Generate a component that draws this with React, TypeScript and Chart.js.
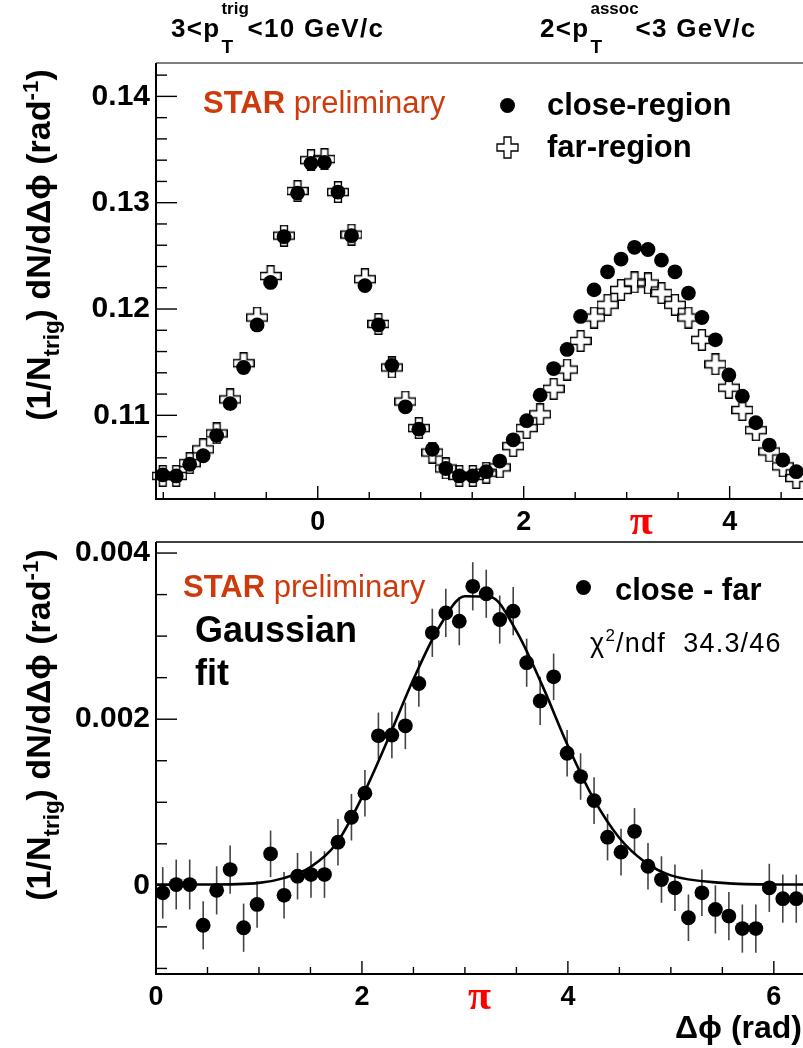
import React, { useEffect, useRef } from 'react';
import { Chart, registerables } from 'chart.js';

Chart.register(...registerables);

const FONT = "'Liberation Sans', Arial, Helvetica, sans-serif";
const PI_FONT = "'Liberation Serif', 'DejaVu Serif', serif";
Chart.defaults.font.family = FONT;

const N_BINS = 48;
const TOP_X_RANGE = [-Math.PI / 2, (3 * Math.PI) / 2];
const BOTTOM_X_RANGE = [0, 2 * Math.PI];
const TOP_Y_RANGE = [0.10213, 0.14314];
const BOTTOM_Y_RANGE = [-0.001067, 0.004133];

// top panel: close-region (filled circles)
const CLOSE_REGION = [
  0.1044, 0.1043, 0.1054, 0.1062, 0.1081, 0.1111, 0.1145, 0.1185, 0.1225, 0.1268, 0.1309, 0.1337,
  0.1338, 0.1310, 0.1269, 0.1222, 0.1185, 0.1147, 0.1108, 0.1087, 0.1068, 0.1050, 0.1043, 0.1043,
  0.1047, 0.1057, 0.1077, 0.1095, 0.1119, 0.1144, 0.1162, 0.1193, 0.1218, 0.1235, 0.1247, 0.1258,
  0.1256, 0.1246, 0.1235, 0.1215, 0.1192, 0.1171, 0.1138, 0.1118, 0.1093, 0.1072, 0.1058, 0.1047,
];
// top panel: far-region (open crosses)
const FAR_REGION = [
  0.1043, 0.1043, 0.1055, 0.1068, 0.1083, 0.1115, 0.1149, 0.1192, 0.1231, 0.1269, 0.1311, 0.1340,
  0.1341, 0.1310, 0.1270, 0.1228, 0.1186, 0.1145, 0.1113, 0.1088, 0.1065, 0.1050, 0.1043, 0.1043,
  0.1046, 0.1051, 0.1071, 0.1088, 0.1101, 0.1125, 0.1143, 0.1170, 0.1192, 0.1204, 0.1218, 0.1225,
  0.1224, 0.1215, 0.1204, 0.1192, 0.1171, 0.1148, 0.1126, 0.1105, 0.1086, 0.1066, 0.1052, 0.1041,
];
// bottom panel: close - far
const CLOSE_MINUS_FAR = [
  -0.00009, 0.00001, 0.00001, -0.00048, -0.00006, 0.00019, -0.00051, -0.00023, 0.00038, -0.00012, 0.00011, 0.00013,
  0.00013, 0.00052, 0.00082, 0.00111, 0.0018, 0.00181, 0.00192, 0.00243, 0.00304, 0.00328, 0.00318, 0.0036,
  0.00351, 0.0032, 0.0033, 0.00268, 0.00222, 0.00251, 0.00159, 0.00131, 0.00102, 0.00058, 0.0004, 0.00065,
  0.00023, 0.00007, -0.00003, -0.00039, -0.00009, -0.00029, -0.00037, -0.00052, -0.00052, -0.00003, -0.00016, -0.00016,
];
const CLOSE_MINUS_FAR_ERR = [
  0.00031, 0.0003, 0.0003, 0.00029, 0.00029, 0.00029, 0.00029, 0.00028, 0.00028, 0.00028, 0.00028, 0.00028,
  0.00028, 0.00028, 0.00028, 0.00028, 0.00028, 0.00028, 0.00028, 0.00028, 0.00029, 0.00029, 0.00029, 0.00029,
  0.00029, 0.00029, 0.00029, 0.00029, 0.00029, 0.00028, 0.00028, 0.00028, 0.00028, 0.00028, 0.00028, 0.00028,
  0.00028, 0.00028, 0.00028, 0.00028, 0.00028, 0.00029, 0.00029, 0.00029, 0.00029, 0.00029, 0.00029, 0.00029,
];
// Gaussian fit curve
const FIT_X = [0, 0.5, 1.0, 1.25, 1.5, 1.75, 2.0, 2.25, 2.5, 2.75, 3.0, 3.25, 3.5, 3.75, 4.0, 4.25, 4.5, 4.75, 5.0, 5.5, 6.0, 6.2832];
const FIT_Y = [0.00001, 0.00001, 0.00003, 0.00009, 0.00022, 0.0005, 0.00106, 0.00175, 0.00248, 0.00311, 0.00348, 0.00347, 0.00306, 0.00241, 0.00168, 0.00104, 0.00057, 0.00028, 0.00012, 0.00003, 0.00001, 0.00001];

const TOP_X_TICK_LABELS = [0, 2, Math.PI, 4];
const BOTTOM_X_TICK_LABELS = [0, 2, Math.PI, 4, 6];
const TOP_Y_TICK_LABELS = [0.11, 0.12, 0.13, 0.14];
const BOTTOM_Y_TICK_LABELS = [0, 0.002, 0.004];

const STAR_COLOR = '#cf3a0c';

function binCenters(range: number[]) {
  const w = (range[1] - range[0]) / N_BINS;
  return Array.from({ length: N_BINS }, (_, i) => range[0] + (i + 0.5) * w);
}

function isPi(v: number) {
  return Math.abs(v - Math.PI) < 1e-9;
}

function makeCross(size: number, lw: number) {
  const c = document.createElement('canvas');
  c.width = size;
  c.height = size;
  const g = c.getContext('2d')!;
  const o = lw / 2;
  const s = size - lw;
  const x0 = o, x1 = o + s / 3, x2 = o + (2 * s) / 3, x3 = o + s;
  g.beginPath();
  g.moveTo(x1, x0); g.lineTo(x2, x0); g.lineTo(x2, x1); g.lineTo(x3, x1); g.lineTo(x3, x2); g.lineTo(x2, x2);
  g.lineTo(x2, x3); g.lineTo(x1, x3); g.lineTo(x1, x2); g.lineTo(x0, x2); g.lineTo(x0, x1); g.lineTo(x1, x1);
  g.closePath();
  g.lineWidth = lw;
  g.strokeStyle = '#000';
  g.stroke();
  return c;
}

function frameTicksPlugin(xStep: number, xMajorEvery: number, yStep: number, yMajorEvery: number, topColor: string) {
  return {
    id: 'frameTicks',
    afterDraw(chart: any) {
      const { ctx, chartArea: a, scales } = chart;
      const xs = scales.x, ys = scales.y;
      const line = (x1: number, y1: number, x2: number, y2: number) => {
        ctx.beginPath(); ctx.moveTo(x1, y1); ctx.lineTo(x2, y2); ctx.stroke();
      };
      ctx.save();
      ctx.strokeStyle = '#000';
      ctx.lineWidth = 1.4;
      const kx0 = Math.ceil(xs.min / xStep - 1e-9), kx1 = Math.floor(xs.max / xStep + 1e-9);
      for (let k = kx0; k <= kx1; k++) {
        const px = xs.getPixelForValue(k * xStep);
        const len = k % xMajorEvery === 0 ? 13 : 7;
        line(px, a.bottom, px, a.bottom - len);
      }
      const ky0 = Math.ceil(ys.min / yStep - 1e-9), ky1 = Math.floor(ys.max / yStep + 1e-9);
      for (let k = ky0; k <= ky1; k++) {
        const py = ys.getPixelForValue(k * yStep);
        const len = k % yMajorEvery === 0 ? 21 : 11;
        line(a.left, py, a.left + len, py);
      }
      ctx.strokeStyle = topColor;
      ctx.lineWidth = 1.5;
      line(a.left, a.top, a.right, a.top);
      ctx.strokeStyle = '#000';
      ctx.lineWidth = 2;
      line(a.left, a.top, a.left, a.bottom + 1);
      line(a.left - 1, a.bottom, a.right, a.bottom);
      ctx.restore();
    },
  };
}

const errorBarsPlugin = {
  id: 'errorBars',
  beforeDatasetsDraw(chart: any) {
    const { ctx, scales } = chart;
    const ds = chart.data.datasets[0];
    ctx.save();
    ctx.strokeStyle = '#444';
    ctx.lineWidth = 1.6;
    ds.data.forEach((p: any, i: number) => {
      const e = CLOSE_MINUS_FAR_ERR[i];
      const px = scales.x.getPixelForValue(p.x);
      ctx.beginPath();
      ctx.moveTo(px, scales.y.getPixelForValue(p.y - e));
      ctx.lineTo(px, scales.y.getPixelForValue(p.y + e));
      ctx.stroke();
    });
    ctx.restore();
  },
};

function xScale(range: number[], labels: number[], height: number) {
  return {
    type: 'linear',
    position: 'bottom',
    min: range[0],
    max: range[1],
    grid: { display: false, drawTicks: false },
    border: { display: false },
    afterBuildTicks: (s: any) => {
      s.ticks = labels.map((v) => ({ value: v }));
    },
    afterFit: (s: any) => {
      s.height = height;
      s.paddingLeft = 0;
      s.paddingRight = 0;
    },
    ticks: {
      autoSkip: false,
      maxRotation: 0,
      minRotation: 0,
      padding: 7,
      font: (c: any) =>
        c.tick && isPi(c.tick.value)
          ? { size: 42, weight: 'bold', family: PI_FONT, lineHeight: 0.8 }
          : { size: 27, weight: 'bold', family: FONT },
      color: (c: any) => (c.tick && isPi(c.tick.value) ? '#ff0000' : '#000'),
      callback: (v: any) => (isPi(Number(v)) ? 'π' : String(Math.round(Number(v)))),
    },
  };
}

function yScale(range: number[], labels: number[], fmt: (v: number) => string) {
  return {
    type: 'linear',
    min: range[0],
    max: range[1],
    grid: { display: false, drawTicks: false },
    border: { display: false },
    afterBuildTicks: (s: any) => {
      s.ticks = labels.map((v) => ({ value: v }));
    },
    afterFit: (s: any) => {
      s.width = 156;
      s.paddingTop = 0;
      s.paddingBottom = 0;
    },
    ticks: {
      autoSkip: false,
      padding: 6,
      font: { size: 30, weight: 'bold', family: FONT },
      color: '#000',
      callback: (v: any) => fmt(Number(v)),
    },
  };
}

const BASE = 0.8465;

function Txt(props: { x: number; y: number; size: number; weight?: any; color?: string; style?: any; children: any }) {
  const { x, y, size, weight = 'bold', color = '#000', style, children } = props;
  return (
    <div
      style={{
        position: 'absolute',
        left: x,
        top: y - BASE * size,
        fontSize: size,
        fontWeight: weight,
        color,
        lineHeight: 1,
        whiteSpace: 'nowrap',
        ...style,
      }}
    >
      {children}
    </div>
  );
}

function SupSub(props: { sup: string; sub: string; w: number }) {
  return (
    <span style={{ position: 'relative', display: 'inline-block', width: props.w, height: 0 }}>
      <span style={{ position: 'absolute', left: 1, top: -37, fontSize: 17, lineHeight: 1, letterSpacing: 0 }}>{props.sup}</span>
      <span style={{ position: 'absolute', left: 1, top: 0, fontSize: 19, lineHeight: 1, letterSpacing: 0 }}>{props.sub}</span>
    </span>
  );
}

function YTitle(props: { cx: number; cy: number }) {
  return (
    <div
      style={{
        position: 'absolute',
        left: props.cx,
        top: props.cy,
        transform: 'translate(-50%, -50%) rotate(-90deg)',
        fontSize: 34,
        fontWeight: 'bold',
        lineHeight: 1,
        whiteSpace: 'nowrap',
        color: '#000',
      }}
    >
      (1/N<span style={{ fontSize: '0.66em', position: 'relative', top: '0.4em' }}>trig</span>) dN/dΔϕ (rad
      <span style={{ fontSize: '0.66em', position: 'relative', top: '-0.55em' }}>-1</span>)
    </div>
  );
}

function CrossIcon(props: { cx: number; cy: number; size: number }) {
  const s = props.size;
  const a = s / 3, b = (2 * s) / 3;
  const pts = `${a},0 ${b},0 ${b},${a} ${s},${a} ${s},${b} ${b},${b} ${b},${s} ${a},${s} ${a},${b} 0,${b} 0,${a} ${a},${a}`;
  return (
    <svg
      width={s + 2}
      height={s + 2}
      style={{ position: 'absolute', left: props.cx - s / 2 - 1, top: props.cy - s / 2 - 1 }}
    >
      <polygon points={pts} transform="translate(1,1)" fill="none" stroke="#000" strokeWidth={1.3} />
    </svg>
  );
}

function Dot(props: { cx: number; cy: number; d: number }) {
  return (
    <div
      style={{
        position: 'absolute',
        left: props.cx - props.d / 2,
        top: props.cy - props.d / 2,
        width: props.d,
        height: props.d,
        borderRadius: '50%',
        background: '#000',
      }}
    />
  );
}

export default function App() {
  const topRef = useRef<HTMLCanvasElement>(null);
  const botRef = useRef<HTMLCanvasElement>(null);

  useEffect(() => {
    const cross = makeCross(22, 1.4);
    const topX = binCenters(TOP_X_RANGE);
    const botX = binCenters(BOTTOM_X_RANGE);

    const top = new Chart(topRef.current!, {
      type: 'scatter',
      data: {
        datasets: [
          {
            label: 'close-region',
            data: CLOSE_REGION.map((y, i) => ({ x: topX[i], y })),
            pointStyle: 'circle',
            pointRadius: 7.4,
            backgroundColor: '#000',
            borderColor: '#000',
            borderWidth: 0,
            clip: false,
          } as any,
          {
            label: 'far-region',
            data: FAR_REGION.map((y, i) => ({ x: topX[i], y })),
            pointStyle: cross,
            pointRadius: 11,
            clip: false,
          } as any,
        ],
      },
      options: {
        responsive: false,
        animation: false,
        devicePixelRatio: 1,
        events: [],
        layout: { autoPadding: false, padding: { top: 63, left: 0, right: 0, bottom: 0 } },
        plugins: { legend: { display: false }, tooltip: { enabled: false } },
        scales: {
          x: xScale(TOP_X_RANGE, TOP_X_TICK_LABELS, 41) as any,
          y: yScale(TOP_Y_RANGE, TOP_Y_TICK_LABELS, (v) => v.toFixed(2)) as any,
        },
      } as any,
      plugins: [frameTicksPlugin(0.5, 4, 0.002, 5, '#555')],
    });

    const bot = new Chart(botRef.current!, {
      type: 'scatter',
      data: {
        datasets: [
          {
            type: 'scatter',
            label: 'close - far',
            data: CLOSE_MINUS_FAR.map((y, i) => ({ x: botX[i], y })),
            pointStyle: 'circle',
            pointRadius: 7.4,
            backgroundColor: '#000',
            borderColor: '#000',
            borderWidth: 0,
            clip: false,
          } as any,
          {
            type: 'line',
            label: 'Gaussian fit',
            data: FIT_X.map((x, i) => ({ x, y: FIT_Y[i] })),
            borderColor: '#000',
            borderWidth: 2.6,
            pointRadius: 0,
            fill: false,
            cubicInterpolationMode: 'monotone',
          } as any,
        ],
      },
      options: {
        responsive: false,
        animation: false,
        devicePixelRatio: 1,
        events: [],
        layout: { autoPadding: false, padding: { top: 2, left: 0, right: 0, bottom: 0 } },
        plugins: { legend: { display: false }, tooltip: { enabled: false } },
        scales: {
          x: xScale(BOTTOM_X_RANGE, BOTTOM_X_TICK_LABELS, 74) as any,
          y: yScale(BOTTOM_Y_RANGE, BOTTOM_Y_TICK_LABELS, (v) => (v === 0 ? '0' : v.toFixed(3))) as any,
        },
      } as any,
      plugins: [errorBarsPlugin, frameTicksPlugin(0.5, 4, 0.0005, 4, '#000')],
    });

    return () => {
      top.destroy();
      bot.destroy();
    };
  }, []);

  return (
    <div
      style={{
        position: 'absolute',
        left: 0,
        top: 0,
        width: 803,
        height: 1048,
        overflow: 'hidden',
        background: '#fff',
        fontFamily: FONT,
        color: '#000',
      }}
    >
      <canvas ref={topRef} width={803} height={540} style={{ position: 'absolute', left: 0, top: 0 }} />
      <canvas ref={botRef} width={803} height={508} style={{ position: 'absolute', left: 0, top: 540 }} />

      <Txt x={171} y={37} size={26} style={{ letterSpacing: 1.3 }}>
        3&lt;p<SupSub sup="trig" sub="T" w={27} />&lt;10 GeV/c
      </Txt>
      <Txt x={540} y={37} size={26} style={{ letterSpacing: 1.3 }}>
        2&lt;p<SupSub sup="assoc" sub="T" w={46} />&lt;3 GeV/c
      </Txt>

      <Txt x={203} y={113} size={31} color={STAR_COLOR}>
        STAR<span style={{ fontWeight: 'normal' }}> preliminary</span>
      </Txt>
      <Dot cx={507} cy={105} d={15} />
      <Txt x={547} y={115} size={31}>close-region</Txt>
      <CrossIcon cx={507} cy={147} size={21} />
      <Txt x={547} y={157} size={31}>far-region</Txt>

      <YTitle cx={38} cy={245} />
      <YTitle cx={38} cy={725} />

      <Txt x={183} y={597} size={31} color={STAR_COLOR}>
        STAR<span style={{ fontWeight: 'normal' }}> preliminary</span>
      </Txt>
      <Txt x={195} y={642} size={36}>Gaussian</Txt>
      <Txt x={195} y={685} size={36}>fit</Txt>

      <Dot cx={583} cy={587} d={15} />
      <Txt x={615} y={600} size={31}>close - far</Txt>
      <Txt x={590} y={653} size={27} weight={500} style={{ letterSpacing: 1.2 }}>
        χ<span style={{ fontSize: 17, position: 'relative', top: -11 }}>2</span>/ndf&nbsp; 34.3/46
      </Txt>

      <div
        style={{
          position: 'absolute',
          right: 1,
          top: 1038 - BASE * 32,
          fontSize: 32,
          fontWeight: 'bold',
          lineHeight: 1,
          whiteSpace: 'nowrap',
        }}
      >
        Δϕ (rad)
      </div>
    </div>
  );
}
